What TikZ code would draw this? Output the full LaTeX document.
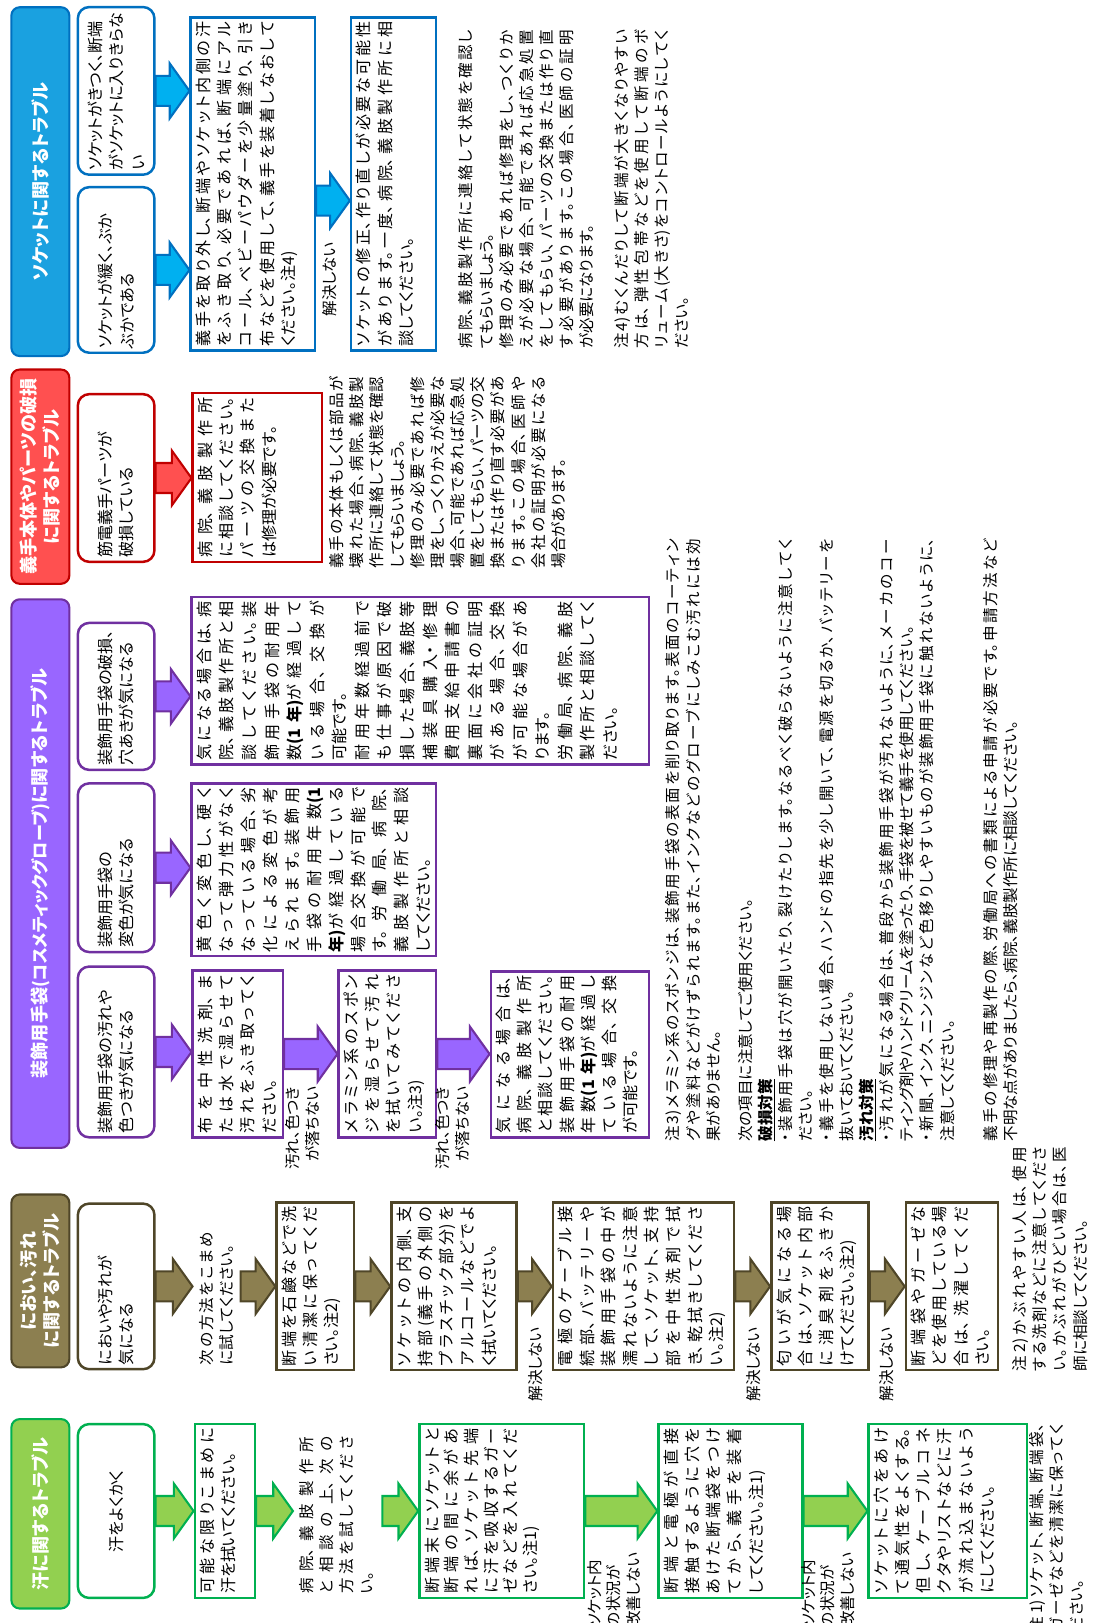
\documentclass[tikz,border=0pt]{standalone}
\usepackage{fontspec}
\setmainfont{Noto Sans CJK JP}[RawFeature=+palt]
\usetikzlibrary{calc}
\XeTeXlinebreaklocale "ja"
\XeTeXlinebreakskip=0pt
\definecolor{bF}{HTML}{1AA1E0}\definecolor{bD}{HTML}{0070C0}\definecolor{bA}{HTML}{00B0F0}
\definecolor{rF}{HTML}{FF5050}\definecolor{rD}{HTML}{C00000}
\definecolor{pF}{HTML}{9966FF}\definecolor{pD}{HTML}{7030A0}
\definecolor{oF}{HTML}{8C7F50}\definecolor{oD}{HTML}{4F4628}
\definecolor{gF}{HTML}{92D050}\definecolor{gD}{HTML}{00B050}
\newcommand\jst{\XeTeXlinebreakskip=0pt plus 1fil\relax\parfillskip=0pt plus 1fill\relax}
\newcommand\bx[8]{\node[#2] (#1) at (#3,-#6) {\parbox[c][\dimexpr #4pt-#3pt-10pt\relax][#7]{\dimexpr #6pt-#5pt-8pt\relax}{#8}};}
\newcommand\barr[3]{\draw[#3] let \p1=(#1), \p2=(#2) in (\x1,\y1+14.5) -- (\x2-19,\y1+14.5) -- (\x2-19,\y1+26.5) -- (\x2,\y1) -- (\x2-19,\y1-26.5) -- (\x2-19,\y1-14.5) -- (\x1,\y1-14.5) -- cycle;}
\tikzset{
 base/.style={rotate=90, anchor=north west, inner xsep=4pt, inner ysep=5pt, font=\fontsize{15.5}{20.5}\selectfont, line width=2.4pt},
 sq/.style={base, draw=#1, fill=white},
 rd/.style={base, draw=#1, fill=white, rounded corners=11pt},
 nt/.style={base, font=\fontsize{15}{19.5}\selectfont},
 hd/.style={rotate=90, anchor=north west, inner sep=0pt, rounded corners=8pt, line width=2pt, text=white, font=\bfseries\fontsize{17.5}{22}\selectfont, align=center},
 lb/.style={rotate=90, inner sep=0pt, font=\fontsize{15}{19}\selectfont},
 arB/.style={fill=bA, draw=bD, line width=2pt, line join=miter},
 arR/.style={fill=rF, draw=rD, line width=2pt, line join=miter},
 arP/.style={fill=pF, draw=pD, line width=2pt, line join=miter},
 arO/.style={fill=oF, draw=oD, line width=2pt, line join=miter},
 arG/.style={fill=gF, draw=gD, line width=2pt, line join=miter}
}
\begin{document}
\begin{tikzpicture}[x=1pt,y=1pt]
\useasboundingbox (0,0) rectangle (1055,-1568);
\fill[white] (0,0) rectangle (1055,-1568);
% headers
\node[hd, fill=bF, draw=bD, minimum width=337pt, minimum height=56pt] (h1) at (10,-345) {ソケットに関するトラブル};
\node[hd, fill=rF, draw=rD, minimum width=207pt, minimum height=56pt] (h2) at (10,-565) {義手本体やパーツの破損\\に関するトラブル};
\node[hd, fill=pF, draw=pD, minimum width=530pt, minimum height=56pt] (h3) at (10,-1110) {装飾用手袋{\fontsize{16.5}{20}\selectfont (コスメティックグローブ)}に関するトラブル};
\node[hd, fill=oF, draw=oD, minimum width=167pt, minimum height=56pt] (h4) at (10,-1322) {におい、汚れ\\に関するトラブル};
\node[hd, fill=gF, draw=gD, minimum width=183pt, minimum height=56pt] (h5) at (10,-1555) {汗に関するトラブル};
% socket
\bx{a1}{rd=bD}{74}{148}{8}{170}{c}{\raggedright ソケットがきつく、断端\\がソケットに入りきらな\\い}
\bx{a2}{rd=bD}{74}{148}{182}{342}{c}{\raggedright ソケットが緩く、ぶか\\ぶかである}
\bx{a3}{sq=bD}{183}{303}{18}{340}{t}{\jst 義手を取り外し、断端やソケット内側の汗\linebreak をふき取り、必要であれば、断端にアル\linebreak コール、ベビーパウダーを少量塗り、引き\linebreak 布などを使用して、義手を装着しなおして\linebreak ください。注4)}
\bx{a4}{sq=bD}{338}{420}{18}{340}{t}{\jst ソケットの修正、作り直しが必要な可能性\linebreak があります。一度、病院、義肢製作所に相\linebreak 談してください。}
\bx{s1}{nt}{437}{585}{26}{342}{t}{\jst 病院、義肢製作所に連絡して状態を確認し\linebreak てもらいましょう。\par 修理のみ必要であれば修理をし、つくりか\linebreak えが必要な場合、可能であれば応急処置\linebreak をしてもらい、パーツの交換または作り直\linebreak す必要があります。この場合、医師の証明\linebreak が必要になります。}
\bx{s2}{nt}{587}{680}{26}{342}{t}{\jst 注4)むくんだりして断端が大きくなりやすい\linebreak 方は、弾性包帯などを使用して断端のボ\linebreak リューム(大きさ)をコントロールようにしてく\linebreak ださい。}
% parts
\bx{b1}{rd=rD}{74}{148}{382}{544}{c}{\raggedright 筋電義手パーツが\\破損している}
\bx{b2}{sq=rD}{185}{310}{381}{544}{t}{\jst 病院、義肢製作所\linebreak に相談してください。\linebreak パーツの交換また\linebreak は修理が必要です。}
\bx{bn}{nt}{312}{565}{361}{554}{t}{\jst 義手の本体もしくは部品が\linebreak 壊れた場合、病院、義肢製\linebreak 作所に連絡して状態を確認\linebreak してもらいましょう。\par 修理のみ必要であれば修\linebreak 理をし、つくりかえが必要な\linebreak 場合、可能であれば応急処\linebreak 置をしてもらい、パーツの交\linebreak 換または作り直す必要があ\linebreak ります。この場合、医師や\linebreak 会社の証明が必要になる\linebreak 場合があります。}
% glove
\bx{c1}{rd=pD}{74}{148}{603}{745}{c}{\raggedright 装飾用手袋の破損、\\穴あきが気になる}
\bx{c2}{sq=pD, font=\fontsize{15.5}{21.8}\selectfont}{184}{626}{578}{740}{t}{\jst 気になる場合は、病\linebreak 院、義肢製作所と相\linebreak 談してください。装\linebreak 飾用手袋の耐用年\linebreak 数\textbf{(1年)}が経過して\linebreak いる場合、交換が\linebreak 可能です。\par 耐用年数経過前で\linebreak も仕事が原因で破\linebreak 損した場合、義肢等\linebreak 補装具購入・修理\linebreak 費用支給申請書の\linebreak 裏面に会社の証明\linebreak がある場合、交換\linebreak が可能な場合があ\linebreak ります。\par 労働局、病院、義肢\linebreak 製作所と相談してく\linebreak ださい。}
\bx{c3}{rd=pD}{74}{148}{758}{921}{c}{\raggedright 装飾用手袋の\\変色が気になる}
\bx{c4}{sq=pD, font=\fontsize{15.5}{21.2}\selectfont}{184}{420}{758}{925}{t}{\jst 黄色く変色し、硬く\linebreak なって弾力性がなく\linebreak なっている場合、劣\linebreak 化による変色が考\linebreak えられます。装飾用\linebreak 手袋の耐用年数\textbf{(1}\linebreak \textbf{年)}が経過している\linebreak 場合交換が可能で\linebreak す。労働局、病院、\linebreak 義肢製作所と相談\linebreak してください。}
\bx{c5}{rd=pD}{74}{148}{935}{1100}{c}{\raggedright 装飾用手袋の汚れや\\色つきが気になる}
\bx{c6}{sq=pD}{185}{272}{939}{1100}{t}{\jst 布を中性洗剤、ま\linebreak たは水で湿らせて\linebreak 汚れをふき取ってく\linebreak ださい。}
\bx{c7}{sq=pD}{326}{420}{939}{1100}{t}{\jst メラミン系のスポン\linebreak ジを湿らせて汚れ\linebreak を拭いてみてくださ\linebreak い。注3)}
\bx{c8}{sq=pD}{473}{626}{940}{1100}{t}{\jst 気になる場合は、\linebreak 病院、義肢製作所\linebreak と相談してください。\linebreak 装飾用手袋の耐用\linebreak 年数\textbf{(1年)}が経過し\linebreak ている場合、交換\linebreak が可能です。}
\bx{n1}{nt}{637}{705}{518}{1108}{t}{\jst 注3)メラミン系のスポンジは、装飾用手袋の表面を削り取ります。表面のコーティン\linebreak グや塗料などがけずられます。また、インクなどのグローブにしみこむ汚れには効\linebreak 果がありません。}
\bx{n2}{nt}{707}{940}{518}{1108}{t}{\jst 次の項目に注意してご使用ください。\par \underline{\textbf{破損対策}}\par ・装飾用手袋は穴が開いたり、裂けたりします。なるべく破らないように注意してく\linebreak ださい。\par ・義手を使用しない場合、ハンドの指先を少し開いて、電源を切るか、バッテリーを\linebreak 抜いておいてください。\par \underline{\textbf{汚れ対策}}\par ・汚れが気になる場合は、普段から装飾用手袋が汚れないように、メーカのコー\linebreak ティング剤やハンドクリームを塗ったり、手袋を被せて義手を使用してください。\par ・新聞、インク、ニンジンなど色移りしやすいものが装飾用手袋に触れないように、\linebreak 注意してください。}
\bx{n3}{nt}{944}{995}{518}{1108}{t}{\jst 義手の修理や再製作の際、労働局への書類による申請が必要です。申請方法など\linebreak 不明な点がありましたら、病院、義肢製作所に相談してください。}
% odour
\bx{d1}{rd=oD}{74}{148}{1164}{1324}{c}{\raggedright においや汚れが\\気になる}
\bx{t1}{nt}{186}{230}{1188}{1324}{t}{\jst 次の方法をこまめ\linebreak に試してください。}
\bx{d2}{sq=oD}{266}{341}{1163}{1325}{t}{\jst 断端を石鹸などで洗\linebreak い清潔に保ってくだ\linebreak さい。注2)}
\bx{d3}{sq=oD}{377}{498}{1163}{1325}{t}{\jst ソケットの内側、支\linebreak 持部(義手の外側の\linebreak プラスチック部分)を\linebreak アルコールなどでよ\linebreak く拭いてください。}
\bx{d4}{sq=oD, font=\fontsize{15.5}{20.8}\selectfont}{533}{708}{1163}{1325}{t}{\jst 電極のケーブル接\linebreak 続部、バッテリーや\linebreak 装飾用手袋の中が\linebreak 濡れないように注意\linebreak して、ソケット、支持\linebreak 部を中性洗剤で拭\linebreak き、乾拭きしてくださ\linebreak い。注2)}
\bx{d5}{sq=oD}{744}{838}{1163}{1325}{t}{\jst 匂いが気になる場\linebreak 合は、ソケット内部\linebreak に消臭剤をふきか\linebreak けてください。注2)}
\bx{d6}{sq=oD}{874}{963}{1163}{1325}{t}{\jst 断端袋やガーゼな\linebreak どを使用している場\linebreak 合は、洗濯してくだ\linebreak さい。}
\bx{n4}{nt}{972}{1062}{1105}{1330}{t}{\jst 注2)かぶれやすい人は、使用\linebreak する洗剤などに注意してくださ\linebreak い。かぶれがひどい場合は、医\linebreak 師に相談してください。}
% sweat
\bx{e1}{rd=gD}{74}{148}{1377}{1545}{c}{\centering 汗をよくかく\par}
\bx{e2}{sq=gD}{187}{245}{1377}{1545}{t}{\jst 可能な限りこまめに\linebreak 汗を拭いてください。}
\bx{t2}{nt}{283}{350}{1385}{1545}{t}{\jst 病院、義肢製作所\linebreak と相談の上、次の\linebreak 方法を試してくださ\linebreak い。}
\bx{e3}{sq=gD, font=\fontsize{15.5}{19}\selectfont}{404}{563}{1377}{1545}{t}{\jst 断端末にソケットと\linebreak 断端の間に余があ\linebreak れば、ソケット先端\linebreak に汗を吸収するガー\linebreak ゼなどを入れてくだ\linebreak さい。注1)}
\bx{e4}{sq=gD}{635}{774}{1377}{1545}{t}{\jst 断端と電極が直接\linebreak 接触するように穴を\linebreak あけた断端袋をつけ\linebreak てから、義手を装着\linebreak してください。注1)}
\bx{e5}{sq=gD}{838}{991}{1377}{1545}{t}{\jst ソケットに穴をあけ\linebreak て通気性をよくする。\linebreak 但し、ケーブルコネ\linebreak クタやリストなどに汗\linebreak が流れ込まないよう\linebreak にしてください。}
\bx{n5}{nt}{988}{1060}{1373}{1582}{t}{\jst 注1)ソケット、断端、断端袋、\linebreak ガーゼなどを清潔に保ってく\linebreak ださい。}
% arrows
\coordinate (a3o) at ($(a3.south)+(0,-16)$);
\coordinate (t2o) at ($(e3.north -| t2.south)+(17,0)$);
\barr{a1.south}{a1.south -| a3.north}{arB}
\barr{a2.south}{a2.south -| a3.north}{arB}
\barr{a3o}{a3o -| a4.north}{arB}
\barr{b1.south}{b1.south -| b2.north}{arR}
\barr{c1.south}{c1.south -| c2.north}{arP}
\barr{c3.south}{c3.south -| c4.north}{arP}
\barr{c5.south}{c5.south -| c6.north}{arP}
\barr{c6.south}{c6.south -| c7.north}{arP}
\barr{c7.south}{c7.south -| c8.north}{arP}
\barr{d1.south}{d1.south -| t1.north}{arO}
\barr{d2.north -| t1.south}{d2.north}{arO}
\barr{d2.south}{d3.north}{arO}
\barr{d3.south}{d4.north}{arO}
\barr{d4.south}{d5.north}{arO}
\barr{d5.south}{d6.north}{arO}
\barr{e1.south}{e1.south -| e2.north}{arG}
\barr{e2.south}{e2.south -| t2.north}{arG}
\barr{t2o}{e3.north}{arG}
\barr{e3.south}{e4.north}{arG}
\barr{e4.south}{e5.north}{arG}
% labels
\node[lb] (k1) at (318,-270) {解決しない};
\node[lb, anchor=east] (k2) at (517,-1282) {解決しない};
\node[lb, anchor=east] (k3) at (728,-1282) {解決しない};
\node[lb, anchor=east] (k4) at (857,-1282) {解決しない};
\node[lb, anchor=east, align=right] (l1) at (292,-1050) {汚れ、色つき\\が落ちない};
\node[lb, anchor=east, align=right] (l2) at (437,-1050) {汚れ、色つき\\が落ちない};
\node[lb, anchor=west, align=left] (m1) at (593,-1572) {ソケット内\\の状況が\\改善しない};
\node[lb, anchor=west, align=left] (m2) at (800,-1572) {ソケット内\\の状況が\\改善しない};
\end{tikzpicture}
\end{document}
